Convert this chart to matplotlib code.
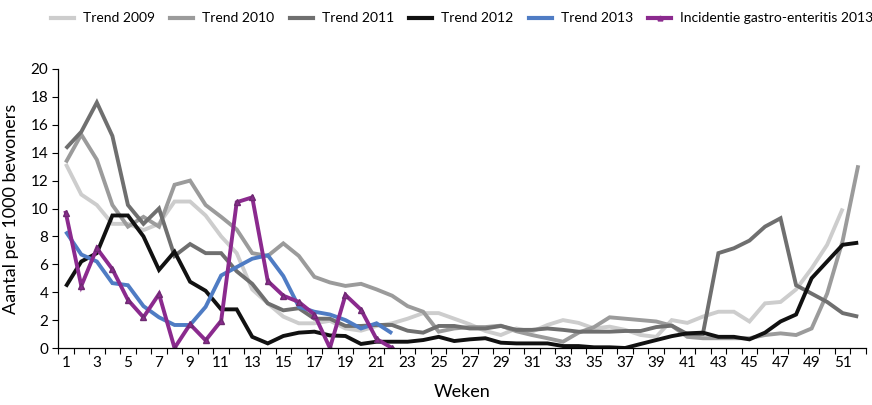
import matplotlib
matplotlib.use("Agg")
import matplotlib.pyplot as plt
from matplotlib.lines import Line2D
import numpy as np

weeks = list(range(1, 53))

trend_2009 = [13.2, 11.0, 10.25, 8.9, 8.9, 8.45, 8.9, 10.5, 10.5, 9.5, 8.0, 6.8, 4.2, 3.2, 2.25, 1.77, 1.77, 1.95,
              1.4, 1.24, 1.58, 1.77, 2.1, 2.5, 2.5, 2.1, 1.7, 1.22, 0.93, 1.4, 1.17, 1.65, 2.0, 1.8, 1.4, 1.53,
              1.3, 0.93, 0.8, 2.0, 1.8, 2.25, 2.6, 2.6, 1.9, 3.2, 3.3, 4.2, 5.7, 7.4, 10.0, None]
trend_2010 = [13.3, 15.3, 13.5, 10.25, 8.7, 9.4, 8.7, 11.7, 12.0, 10.25, 9.4, 8.5, 6.8, 6.6, 7.5, 6.6, 5.1, 4.7,
              4.45, 4.6, 4.2, 3.75, 3.0, 2.6, 1.17, 1.4, 1.5, 1.5, 1.6, 1.2, 0.93, 0.7, 0.45, 1.1, 1.5, 2.2,
              2.1, 2.0, 1.9, 1.6, 0.8, 0.7, 0.7, 0.7, 0.7, 0.93, 1.05, 0.93, 1.4, 3.9, 7.7, 13.1]
trend_2011 = [14.3, 15.5, 17.6, 15.2, 10.25, 8.9, 10.0, 6.6, 7.45, 6.8, 6.8, 5.5, 4.6, 3.2, 2.7, 2.85, 2.1, 2.1,
              1.58, 1.58, 1.65, 1.65, 1.24, 1.1, 1.58, 1.58, 1.4, 1.4, 1.58, 1.3, 1.3, 1.4, 1.3, 1.17, 1.17, 1.17,
              1.22, 1.22, 1.5, 1.6, 1.0, 1.0, 6.8, 7.15, 7.7, 8.7, 9.3, 4.5, 3.9, 3.3, 2.5, 2.25]
trend_2012 = [4.4, 6.2, 6.8, 9.5, 9.5, 8.0, 5.6, 6.9, 4.75, 4.1, 2.77, 2.77, 0.8, 0.33, 0.86, 1.1, 1.17, 0.9,
              0.86, 0.29, 0.45, 0.45, 0.45, 0.57, 0.8, 0.5, 0.62, 0.7, 0.38, 0.33, 0.33, 0.33, 0.14, 0.14, 0.05, 0.05,
              0.0, 0.29, 0.57, 0.85, 1.05, 1.1, 0.8, 0.8, 0.62, 1.1, 1.9, 2.4, 5.0, 6.2, 7.4, 7.55]
trend_2013 = [8.35, 6.7, 6.2, 4.65, 4.5, 3.0, 2.2, 1.65, 1.65, 2.95, 5.2, 5.8, 6.4, 6.65, 5.16, 2.96, 2.6, 2.4,
              2.0, 1.4, 1.77, 1.05]
incidentie_2013 = [9.7, 4.45, 7.15, 5.65, 3.45, 2.2, 3.87, 0.0, 1.7, 0.55, 1.95, 10.45, 10.8, 4.8, 3.75, 3.3, 2.4,
                   0.0, 3.8, 2.75, 0.64, 0.0]

series = [
    ("Trend 2009", trend_2009, "#cdcdcd"),
    ("Trend 2010", trend_2010, "#9b9b9b"),
    ("Trend 2011", trend_2011, "#6f6f6f"),
    ("Trend 2012", trend_2012, "#111111"),
    ("Trend 2013", trend_2013, "#4f7cc4"),
]

plt.rcParams['font.family'] = ['Lato', 'DejaVu Sans']

fig = plt.figure(figsize=(8.72, 4.05), dpi=100)
ax = fig.add_axes([58/872, 1-348/405, (866-58)/872, (348-69)/405])

handles = []
for name, vals, col in series:
    y = np.array([np.nan if v is None else v for v in vals], dtype=float)
    x = weeks[:len(y)]
    ax.plot(x, y, color=col, lw=2.8, solid_joinstyle='miter', solid_capstyle='butt')
    handles.append(Line2D([], [], color=col, lw=3.0))

ax.plot(weeks[:len(incidentie_2013)], incidentie_2013, color="#8b2a8e", lw=2.8,
        marker='^', markersize=4.5, markerfacecolor="#8b2a8e", markeredgecolor="#6e2a72",
        solid_joinstyle='miter')
handles.append(Line2D([], [], color="#8b2a8e", lw=3.0, marker='^', markersize=3.5))
labels = [s[0] for s in series] + ["Incidentie gastro-enteritis 2013"]

ax.set_xlim(0.5, 52.5)
ax.set_ylim(0, 20)
ax.set_yticks(range(0, 21, 2))
ax.set_xticks(list(range(1, 53, 2)))
ax.set_xticklabels([str(w) for w in range(1, 53, 2)])
ax.set_xticks(np.arange(0.5, 53, 1.0), minor=True)
ax.tick_params(axis='x', which='major', length=0, pad=6, labelsize=11)
ax.tick_params(axis='x', which='minor', length=4, width=0.8, direction='out')
ax.tick_params(axis='y', length=4, width=0.8, direction='out', labelsize=11, pad=3)
for s in ['top', 'right']:
    ax.spines[s].set_visible(False)
ax.spines['left'].set_linewidth(0.9)
ax.spines['bottom'].set_linewidth(0.9)

ax.set_xlabel("Weken", fontsize=13, labelpad=10)
ax.set_ylabel("Aantal per 1000 bewoners", fontsize=13, labelpad=8)

fig.legend(handles, labels, loc='upper center', bbox_to_anchor=(0.53, 1.0), ncol=6,
           frameon=False, fontsize=10, handlelength=1.65, handletextpad=0.65, columnspacing=1.1)

fig.savefig("out.png", dpi=100)
